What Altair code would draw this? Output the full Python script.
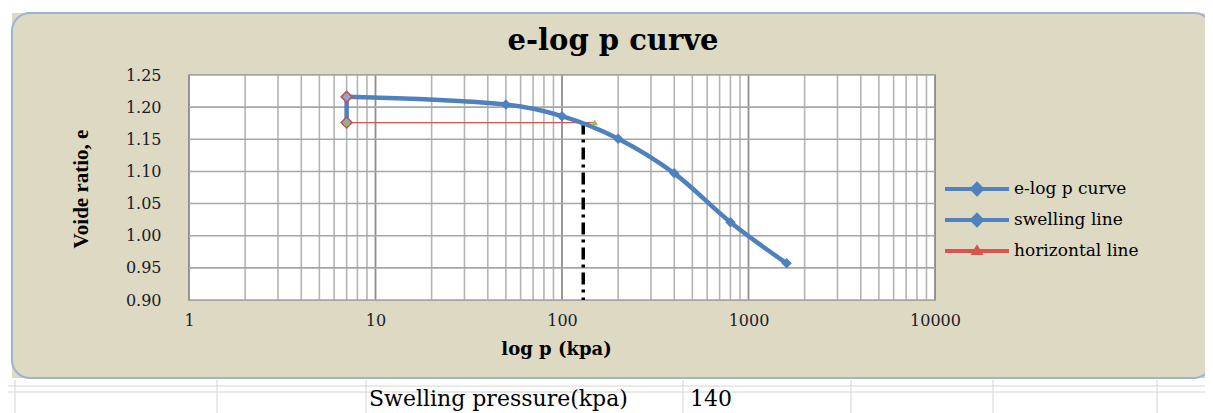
import altair as alt
import pandas as pd

# ---------------- data ----------------
curve_p = [7, 50, 100, 200, 400, 800, 1600]
curve_e = [1.216, 1.204, 1.186, 1.151, 1.097, 1.021, 0.957]
swell_p = [7, 7]
swell_e = [1.216, 1.176]
horiz_p = [7, 150]
horiz_e = [1.176, 1.176]
sp_line_p = [130]
sp_line_e_top = [1.176]
sp_line_e_bottom = [0.90]
series_names = ["e-log p curve", "swelling line", "horizontal line"]
x_grid_values = [1, 2, 3, 4, 5, 6, 7, 8, 9,
                 10, 20, 30, 40, 50, 60, 70, 80, 90,
                 100, 200, 300, 400, 500, 600, 700, 800, 900,
                 1000, 2000, 3000, 4000, 5000, 6000, 7000, 8000, 9000, 10000]
x_label_values = [1, 10, 100, 1000, 10000]
y_tick_values = [0.90, 0.95, 1.00, 1.05, 1.10, 1.15, 1.20, 1.25]
swelling_pressure = 140
chart_title = "e-log p  curve"
x_title = "log p (kpa)"
y_title = "Voide ratio, e"
note_label = "Swelling pressure(kpa)"

# ---------------- style ----------------
SERIF = "Liberation Serif"
WIDE_SERIF = "DejaVu Serif"
BLUE = "#4F81BD"
RED = "#D9534F"
GREEN = "#9BBB59"
BEIGE = "#DDD9C3"
W, H = 746, 225
ORIGIN_X, ORIGIN_Y = 189, 75   # page position of plot origin (includes 8px margin)
TOTAL_W, TOTAL_H = 1197, 405

xs = alt.Scale(type="log", domain=[1, 10000], nice=False)
ys = alt.Scale(domain=[0.90, 1.25], nice=False, zero=False)

one = pd.DataFrame({"k": [0]})


def px(page_x):
    return page_x - ORIGIN_X


def py(page_y):
    return page_y - ORIGIN_Y


def white_box(x0, x1, y0, y1):
    return alt.Chart(one).mark_rect(fill="white").encode(
        x=alt.value(px(x0)), x2=alt.value(px(x1)), y=alt.value(py(y0)), y2=alt.value(py(y1)))


# white spreadsheet area around the beige chart area
decor = [
    white_box(0, 1213, 0, 13),
    white_box(0, 12, 0, 413),
    white_box(1211, 1213, 0, 413),
    white_box(0, 1213, 378, 413),
]
for yy in [386, 392]:
    decor.append(alt.Chart(one).mark_rule(color="#D4D4D4", strokeWidth=1).encode(
        x=alt.value(px(8)), x2=alt.value(px(1205)), y=alt.value(py(yy))))
for xx in [15, 217, 366, 683, 851, 993, 1157]:
    decor.append(alt.Chart(one).mark_rule(color="#D4D4D4", strokeWidth=1).encode(
        x=alt.value(px(xx)), y=alt.value(py(380)), y2=alt.value(py(413))))
decor.append(alt.Chart(one).mark_rect(
    fill=None, stroke="#9FB3CC", strokeWidth=2, cornerRadius=18
).encode(x=alt.value(px(12)), x2=alt.value(px(1212)),
         y=alt.value(py(13)), y2=alt.value(py(378))))

plot_bg = alt.Chart(one).mark_rect(fill="white").encode(
    x=alt.value(0), x2=alt.value(W), y=alt.value(0), y2=alt.value(H))

# grid lines drawn through the scales
xgrid_df = pd.DataFrame({"p": x_grid_values})
xgrid_df["major"] = xgrid_df["p"].isin(x_label_values)

x_axis = alt.Axis(values=x_label_values, grid=False, ticks=False, domain=False,
                  labelExpr="format(datum.value, 'd')", labelOverlap=False,
                  labelFlush=False, labelPadding=12, title=x_title,
                  titleX=px(556), titleY=54, titleAlign="center",
                  titleBaseline="alphabetic", zindex=2)
y_axis = alt.Axis(values=y_tick_values, format=".2f", grid=False, ticks=False,
                  domain=False, labelPadding=28, title=None, zindex=2)

minor_grid = alt.Chart(xgrid_df).transform_filter("!datum.major").mark_rule(
    color="#B4B4B4", strokeWidth=1.6
).encode(x=alt.X("p:Q", scale=xs, axis=x_axis), y=alt.value(0), y2=alt.value(H))

major_grid = alt.Chart(xgrid_df).transform_filter("datum.major").mark_rule(
    color="#8E8E8E", strokeWidth=1.8
).encode(x=alt.X("p:Q", scale=xs, axis=x_axis), y=alt.value(0), y2=alt.value(H))

ygrid = alt.Chart(pd.DataFrame({"e": y_tick_values})).mark_rule(
    color="#A6A6A6", strokeWidth=1.6
).encode(y=alt.Y("e:Q", scale=ys, axis=y_axis), x=alt.value(0), x2=alt.value(W))

# data series
curve_df = pd.DataFrame({"p": curve_p, "e": curve_e})
swell_df = pd.DataFrame({"p": swell_p, "e": swell_e})
horiz_df = pd.DataFrame({"p": horiz_p, "e": horiz_e})
sp_df = pd.DataFrame({"p": sp_line_p, "e": sp_line_e_top, "e2": sp_line_e_bottom})

X = alt.X("p:Q", scale=xs, axis=x_axis)
Y = alt.Y("e:Q", scale=ys, axis=y_axis)

curve_line = alt.Chart(curve_df).mark_line(
    color=BLUE, strokeWidth=4.5, interpolate="monotone").encode(x=X, y=Y)
curve_pts = alt.Chart(curve_df).mark_point(
    shape="diamond", filled=True, color=BLUE, size=110, opacity=1).encode(x=X, y=Y)

swell_line = alt.Chart(swell_df).mark_line(color=BLUE, strokeWidth=4.5).encode(x=X, y=Y)
swell_pts = alt.Chart(swell_df).mark_point(
    shape="diamond", fill="#8FA6D3", stroke="#C0504D", strokeWidth=1.5,
    size=120, opacity=1).encode(x=X, y=Y)

horiz_line = alt.Chart(horiz_df).mark_line(color=RED, strokeWidth=1.2).encode(x=X, y=Y)
horiz_pts = alt.Chart(horiz_df).mark_point(
    shape="triangle-up", filled=True, color=GREEN, size=40, opacity=1).encode(x=X, y=Y)

sp_rule = alt.Chart(sp_df).mark_rule(
    color="black", strokeWidth=3.5, strokeDash=[12, 5, 3, 5]
).encode(x=X, y=Y, y2="e2:Q")

# legend (Vega legend; carrier points lie outside the x domain and are clipped)
legend_df = pd.DataFrame({"series": series_names, "p": [1e6] * 3, "e": [1.0] * 3})
path_diamond = "M-2,0H2M0,-0.3L0.3,0L0,0.3L-0.3,0Z"
path_tri = "M-2,0H2M0,-0.18L0.18,0.13L-0.18,0.13Z"
leg = alt.Legend(title=None)
legend_layer = alt.Chart(legend_df).mark_point(clip=True, opacity=1, filled=True).encode(
    x=X, y=Y,
    shape=alt.Shape("series:N", scale=alt.Scale(domain=series_names,
                    range=[path_diamond, path_diamond, path_tri]), legend=leg),
    fill=alt.Fill("series:N", scale=alt.Scale(domain=series_names,
                  range=[BLUE, "#C0504D", GREEN]), legend=leg),
    stroke=alt.Stroke("series:N", scale=alt.Scale(domain=series_names,
                      range=[BLUE, BLUE, RED]), legend=leg),
    strokeWidth=alt.StrokeWidth("series:N", scale=alt.Scale(domain=series_names,
                                range=[4, 4, 1.2]), legend=leg),
)

# texts drawn as text marks
title_df = pd.DataFrame({"t": [chart_title], "yt": [y_title]})
title_mark = alt.Chart(title_df).mark_text(
    font=WIDE_SERIF, fontSize=29, fontWeight="bold", align="center",
    baseline="alphabetic", color="black"
).encode(text="t:N", x=alt.value(px(613)), y=alt.value(py(50)))
ytitle_mark = alt.Chart(title_df).mark_text(
    font=SERIF, fontSize=21, fontWeight="bold", align="center",
    baseline="middle", color="black", angle=270
).encode(text="yt:N", x=alt.value(px(82)), y=alt.value(py(189)))

note_df = pd.DataFrame({"label": [note_label], "value": [str(swelling_pressure)]})
note1 = alt.Chart(note_df).mark_text(
    font=WIDE_SERIF, fontSize=22, align="left", baseline="alphabetic", color="black"
).encode(text="label:N", x=alt.value(px(369)), y=alt.value(py(406)))
note2 = alt.Chart(note_df).mark_text(
    font=WIDE_SERIF, fontSize=22, align="left", baseline="alphabetic", color="black"
).encode(text="value:N", x=alt.value(px(690)), y=alt.value(py(406)))

chart = alt.layer(
    *decor, plot_bg, minor_grid, major_grid, ygrid,
    horiz_line, sp_rule, curve_line, swell_line, curve_pts, swell_pts, horiz_pts,
    legend_layer, title_mark, ytitle_mark, note1, note2,
).properties(
    width=W, height=H,
    autosize=alt.AutoSizeParams(type="none"),
    padding={"left": ORIGIN_X - 8, "top": ORIGIN_Y - 8,
             "right": TOTAL_W - (ORIGIN_X - 8) - W,
             "bottom": TOTAL_H - (ORIGIN_Y - 8) - H},
    background=BEIGE,
).configure_view(
    stroke="#8A8A8A", strokeWidth=1.5
).configure_axis(
    labelFont=WIDE_SERIF, labelFontSize=16, labelColor="#1A1A2A",
    titleFont=WIDE_SERIF, titleFontSize=18, titleFontWeight="bold", titleColor="black",
).configure_legend(
    orient="none", legendX=px(959), legendY=py(187) - 16,
    labelFont=WIDE_SERIF, labelFontSize=17, labelColor="black",
    symbolSize=1024, rowPadding=-4, labelOffset=19, padding=0,
)

chart.save("out.html", embed_options={"renderer": "svg", "actions": False})
